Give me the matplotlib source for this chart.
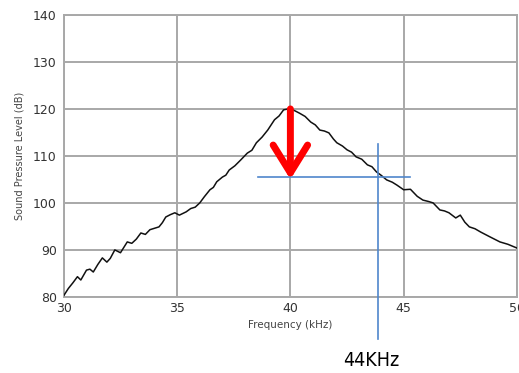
import matplotlib.pyplot as plt

# === Data ===
freq_khz = [30.0, 30.2, 30.4, 30.6, 30.75, 31.0, 31.15, 31.3, 31.5, 31.7, 31.9, 32.05, 32.25,
            32.5, 32.8, 33.0, 33.2, 33.4, 33.6, 33.8, 34.0, 34.2, 34.35, 34.5, 34.7, 34.9,
            35.1, 35.4, 35.6, 35.8, 36.0, 36.2, 36.45, 36.6, 36.75, 37.0, 37.15, 37.3,
            37.55, 37.8, 38.1, 38.3, 38.5, 38.75, 39.0, 39.3, 39.5, 39.7, 39.9, 40.0,
            40.2, 40.4, 40.65, 40.9, 41.1, 41.3, 41.5, 41.7, 41.9, 42.05, 42.3, 42.5,
            42.7, 42.9, 43.15, 43.4, 43.6, 43.8, 44.0, 44.25, 44.5, 44.7, 45.0, 45.3,
            45.6, 45.85, 46.1, 46.3, 46.6, 46.8, 47.0, 47.3, 47.5, 47.7, 47.9, 48.15,
            48.4, 48.8, 49.25, 49.6, 50.0]
spl_db = [80.3, 81.8, 83.0, 84.3, 83.6, 85.7, 85.9, 85.3, 86.9, 88.3, 87.4, 88.2, 90.0,
          89.4, 91.7, 91.4, 92.3, 93.6, 93.3, 94.3, 94.6, 94.9, 95.8, 97.0, 97.5, 97.9,
          97.4, 98.1, 98.8, 99.1, 100.0, 101.3, 102.8, 103.3, 104.5, 105.5, 105.9, 107.0,
          107.9, 109.1, 110.6, 111.2, 112.8, 114.0, 115.5, 117.7, 118.5, 119.8, 120.0, 120.0,
          119.6, 119.1, 118.4, 117.2, 116.6, 115.5, 115.3, 114.9, 113.6, 112.8, 112.1, 111.3,
          110.8, 109.8, 109.3, 108.1, 107.7, 106.6, 105.9, 104.9, 104.4, 103.8, 102.8, 102.9,
          101.4, 100.6, 100.3, 100.0, 98.5, 98.3, 97.9, 96.8, 97.4, 95.9, 94.9, 94.5,
          93.8, 92.8, 91.7, 91.2, 90.4]

x_ticks = [30, 35, 40, 45, 50]
y_ticks = [80, 90, 100, 110, 120, 130, 140]

peak = (40, 120)
arrow_end = 105.0
marker_freq = 43.85
marker_level = 105.6
h_line = (38.55, 45.3)
v_line = (71.0, 112.6)
marker_text = "44KHz"

# === Figure ===
fig = plt.figure(figsize=(5.19, 3.73), dpi=100)
ax = fig.add_axes([0.123, 0.204, 0.873, 0.756])

ax.plot(freq_khz, spl_db, color="#111111", lw=1.1, zorder=3)

ax.set_xlim(30, 50)
ax.set_ylim(80, 140)
ax.set_xticks(x_ticks)
ax.set_yticks(y_ticks)
ax.tick_params(length=0, labelsize=9, labelcolor="#333333")
ax.tick_params(axis="y", pad=5)
ax.tick_params(axis="x", pad=4)
ax.grid(True, color="#a8a8a8", lw=1.4)
for s in ax.spines.values():
    s.set_color("#a8a8a8")
    s.set_linewidth(1.4)

ax.set_xlabel("Frequency (kHz)", fontsize=7.5, color="#444444", labelpad=3)
ax.set_ylabel("Sound Pressure Level (dB)", fontsize=7, color="#444444", labelpad=6)

# red arrow from the peak
ax.annotate("", xy=(peak[0], arrow_end), xytext=peak,
            arrowprops=dict(arrowstyle="->, head_length=1.0, head_width=0.62",
                            color="red", lw=5, mutation_scale=20,
                            shrinkA=0, shrinkB=0),
            zorder=5)

# blue marker lines
blue = "#4f86cc"
ax.plot(h_line, [marker_level, marker_level], color=blue, lw=1.2, zorder=4)
ax.plot([marker_freq, marker_freq], v_line, color=blue, lw=1.2, zorder=4, clip_on=False)

ax.text(marker_freq - 0.3, 65.3, marker_text, ha="center", va="baseline", fontsize=14,
        family="DejaVu Sans", fontstretch="condensed", color="black", clip_on=False)

fig.savefig("out.png", dpi=100)
